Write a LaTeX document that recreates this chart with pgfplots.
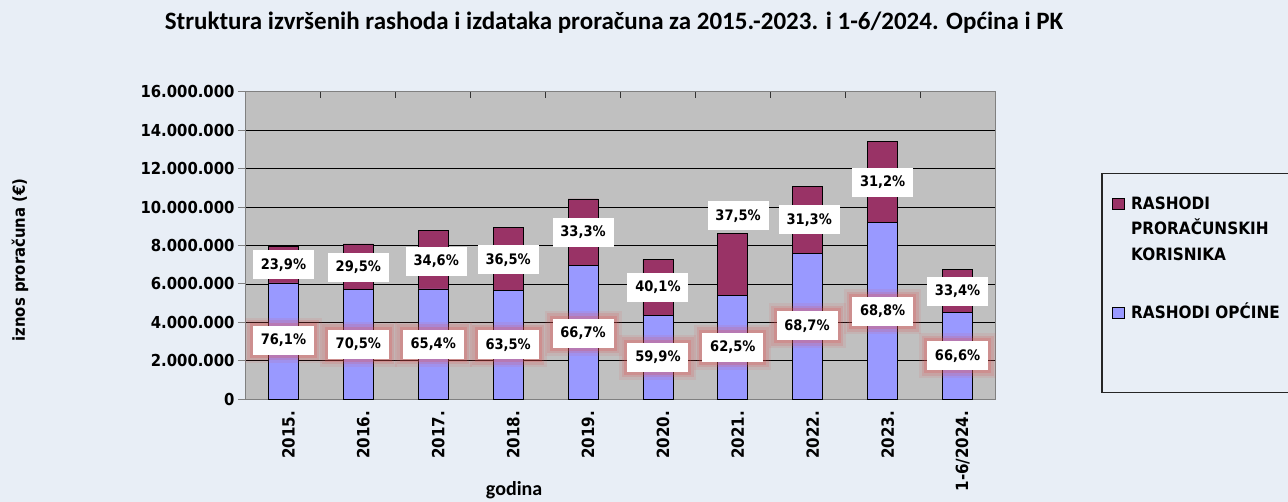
\documentclass[border=0pt]{standalone}
\usepackage{fontspec}
\usepackage{pgfplots}
\pgfplotsset{compat=1.18}
\setmainfont{DejaVu Sans}[FakeStretch=0.9]
\newfontfamily\titlefont{Carlito}

\definecolor{bgc}{RGB}{232,238,246}
\definecolor{plotbg}{RGB}{192,192,192}
\definecolor{opc}{RGB}{153,153,255}
\definecolor{pk}{RGB}{153,51,102}
\definecolor{axisgray}{RGB}{128,128,128}
\definecolor{glow}{RGB}{225,80,80}

\tikzset{
  lblbox/.style={anchor=center, fill=white, inner sep=0pt, minimum width=61pt,
    minimum height=29pt, font=\bfseries\fontsize{14.5}{14.5}\selectfont, text=black},
  glowbox/.style={
    preaction={draw=glow, line width=16pt, opacity=0.10, rounded corners=8pt},
    preaction={draw=glow, line width=11pt, opacity=0.16, rounded corners=5pt},
    preaction={draw=glow, line width=6pt, opacity=0.24, rounded corners=2pt}},
}
\pgfplotsset{
  pctlabels/.style={draw=none, mark=none, point meta=explicit,
    nodes near coords={\pgfmathprintnumber[fixed,fixed zerofill,precision=1,use comma]{\pgfplotspointmeta}\%},
    nodes near coords align=center,
    every node near coord/.append style={lblbox}},
}

\begin{document}
\begin{tikzpicture}
\fill[bgc, use as bounding box] (0,0) rectangle (1288pt,502pt);

% title
\node[font=\titlefont\bfseries\fontsize{25}{25}\selectfont] at (614pt,479pt)
  {Struktura izvršenih rashoda i izdataka proračuna za 2015.-2023. i 1-6/2024. Općina i PK};

\begin{axis}[
  at={(246pt,102.7pt)}, anchor=south west, scale only axis,
  width=749pt, height=307.6pt,
  ybar stacked, bar width=30pt,
  xmin=-0.5, xmax=9.5, ymin=0, ymax=16000000,
  ytick distance=2000000, scaled y ticks=false,
  /pgf/number format/assume math mode=true,
  yticklabel style={/pgf/number format/.cd, fixed, precision=0, 1000 sep={.}},
  ymajorgrids, grid style={black, line width=0.8pt},
  axis background/.style={fill=plotbg},
  axis line style={draw=axisgray, line width=1pt},
  ytick pos=left, tick align=outside, major tick length=8pt,
  tick style={axisgray, line width=1pt},
  ticklabel style={font=\bfseries\fontsize{16.5}{16.5}\selectfont},
  xtick={0,...,9},
  xticklabels={2015.,2016.,2017.,2018.,2019.,2020.,2021.,2022.,2023.,1-6/2024.},
  x tick style={draw=none},
  xticklabel style={rotate=90, anchor=east, yshift=-5pt,
    font=\bfseries\fontsize{16.8}{16.8}\selectfont},
  xlabel={godina},
  xlabel style={at={(axis description cs:0.358,-0.296)}, anchor=center,
    font=\titlefont\bfseries\fontsize{20}{20}\selectfont},
  ylabel={iznos proračuna (€)},
  ylabel style={at={(axis description cs:-0.3017,0.453)}, anchor=center,
    font=\bfseries\fontsize{16.5}{16.5}\selectfont},
]
% RASHODI OPĆINE
\addplot[fill=opc, draw=black, line width=0.8pt] coordinates {
  (0,6050000) (1,5700000) (2,5740000) (3,5670000) (4,6950000)
  (5,4360000) (6,5400000) (7,7600000) (8,9210000) (9,4500000)};
% RASHODI PRORAČUNSKIH KORISNIKA
\addplot[fill=pk, draw=black, line width=0.8pt] coordinates {
  (0,1900000) (1,2380000) (2,3030000) (3,3260000) (4,3470000)
  (5,2920000) (6,3240000) (7,3460000) (8,4180000) (9,2260000)};
\end{axis}

% overlay: boundary ticks on top and percentage labels
\begin{axis}[
  at={(246pt,102.7pt)}, anchor=south west, scale only axis,
  width=749pt, height=307.6pt,
  xmin=-0.5, xmax=9.5, ymin=0, ymax=16000000,
  axis line style={draw=none}, ytick=\empty,
  xtick={0.5,1.5,...,8.5}, xticklabels={}, xtick pos=right,
  tick align=inside, major tick length=6pt,
  tick style={black!80, line width=1pt},
  clip=false,
  /pgf/number format/assume math mode=true,
]
\addplot[pctlabels] table[x=x, y=y, meta=p] {
x y p
0 7000000 23.9
1 6880000 29.5
2.04 7160000 34.6
3 7250000 36.5
4 8700000 33.3
5 5820000 40.1
6.07 9550000 37.5
7.02 9330000 31.3
8 11270000 31.2
9 5620000 33.4
};
\addplot[pctlabels, every node near coord/.append style={glowbox}]
  table[x=x, y=y, meta=p] {
x y p
0 3070000 76.1
1 2860000 70.5
2 2860000 65.4
3 2840000 63.5
4 3440000 66.7
5 2190000 59.9
6 2710000 62.5
6.99 3830000 68.7
8 4560000 68.8
9 2270000 66.6
};
\end{axis}

% legend
\draw[black!85, line width=1.5pt] (1102pt,109.7pt) rectangle (1300pt,328.7pt);
\filldraw[fill=pk, draw=black, line width=0.8pt] (1112pt,293pt) rectangle (1124pt,304pt);
\filldraw[fill=opc, draw=black, line width=0.8pt] (1112pt,184pt) rectangle (1124pt,195pt);
\begin{scope}[every node/.style={anchor=base west, inner sep=0pt,
    font=\bfseries\fontsize{17}{17}\selectfont}]
\node at (1131pt,292.8pt) {RASHODI};
\node at (1131pt,267.8pt) {PRORAČUNSKIH};
\node at (1131pt,241.8pt) {KORISNIKA};
\node at (1131pt,183.1pt) {RASHODI OPĆINE};
\end{scope}
\end{tikzpicture}
\end{document}
